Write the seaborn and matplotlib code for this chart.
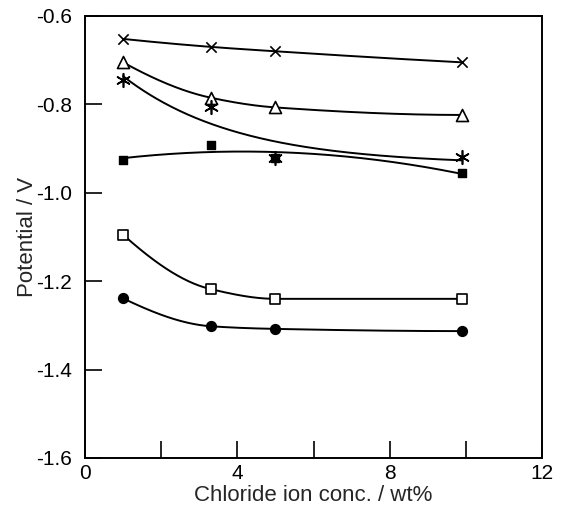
import numpy as np
import pandas as pd
import seaborn as sns
import matplotlib
matplotlib.use("Agg")
import matplotlib.pyplot as plt

# ----------------------------------------
# data
# ----------------------------------------
conc = [1.0, 3.3, 5.0, 9.9]

pot_cross = [-0.652, -0.670, -0.680, -0.705]
pot_triangle = [-0.705, -0.785, -0.807, -0.824]
pot_asterisk = [-0.745, -0.805, -0.921, -0.920]
pot_sq_filled = [-0.927, -0.891, -0.921, -0.956]
pot_sq_open = [-1.095, -1.218, -1.240, -1.240]
pot_circle = [-1.239, -1.302, -1.308, -1.313]

series_names = ["cross", "triangle", "asterisk", "sq_filled", "sq_open", "circle"]
series_values = [pot_cross, pot_triangle, pot_asterisk, pot_sq_filled, pot_sq_open, pot_circle]

x_ticks = [0, 2, 4, 6, 8, 10, 12]
x_labels = ["0", "", "4", "", "8", "", "12"]
y_ticks = [-1.6, -1.4, -1.2, -1.0, -0.8, -0.6]
y_labels = ["-1.6", "-1.4", "-1.2", "-1.0", "-0.8", "-0.6"]

df = pd.concat(
    [pd.DataFrame({"conc": conc, "potential": v, "series": n})
     for n, v in zip(series_names, series_values)],
    ignore_index=True,
)

# ----------------------------------------
# smooth curves like the hand-drawn ones in the original
# ----------------------------------------
# "smooth": monotone cubic through the points
# "sat": least-squares line in exp(-conc/3), levels off (curve misses points)
# "x": least-squares quadratic in conc
curve_kind = {
    "cross": "smooth",
    "triangle": "smooth",
    "asterisk": "sat",
    "sq_filled": "x",
    "sq_open": "smooth",
    "circle": "smooth",
}

def monotone_cubic(x, y, xs):
    # Fritsch-Carlson slopes (same idea as PCHIP)
    x = np.asarray(x, float)
    y = np.asarray(y, float)
    h = np.diff(x)
    delta = np.diff(y) / h
    d = np.zeros_like(y)
    for k in range(1, len(x) - 1):
        if delta[k - 1] * delta[k] > 0:
            w1 = 2 * h[k] + h[k - 1]
            w2 = h[k] + 2 * h[k - 1]
            d[k] = (w1 + w2) / (w1 / delta[k - 1] + w2 / delta[k])
    for k, (i0, i1) in {0: (0, 1), len(x) - 1: (-1, -2)}.items():
        hh0, hh1 = h[i0], h[i1]
        dd0, dd1 = delta[i0], delta[i1]
        dk = ((2 * hh0 + hh1) * dd0 - hh0 * dd1) / (hh0 + hh1)
        if np.sign(dk) != np.sign(dd0):
            dk = 0.0
        elif np.sign(dd0) != np.sign(dd1) and abs(dk) > abs(3 * dd0):
            dk = 3 * dd0
        d[k] = dk
    idx = np.clip(np.searchsorted(x, xs) - 1, 0, len(x) - 2)
    hk = h[idx]
    s = (xs - x[idx]) / hk
    h00 = 2 * s**3 - 3 * s**2 + 1
    h10 = s**3 - 2 * s**2 + s
    h01 = -2 * s**3 + 3 * s**2
    h11 = s**3 - s**2
    return h00 * y[idx] + h10 * hk * d[idx] + h01 * y[idx + 1] + h11 * hk * d[idx + 1]

fit_rows = []
for name in series_names:
    sub = df[df.series == name]
    xs = np.linspace(sub.conc.min(), sub.conc.max(), 300)
    kind = curve_kind[name]
    if kind == "smooth":
        ys = monotone_cubic(sub.conc.values, sub.potential.values, xs)
    elif kind == "sat":
        coef = np.polyfit(np.exp(-sub.conc / 3.0), sub.potential, 1)
        ys = np.polyval(coef, np.exp(-xs / 3.0))
    else:
        coef = np.polyfit(sub.conc, sub.potential, 2)
        ys = np.polyval(coef, xs)
    fit_rows.append(pd.DataFrame({"conc": xs, "potential": ys, "series": name}))
fit_df = pd.concat(fit_rows, ignore_index=True)

# ----------------------------------------
# style
# ----------------------------------------
sns.set_theme(style="ticks")
plt.rcParams["font.family"] = ["Liberation Sans", "DejaVu Sans"]

marker_style = {
    "cross": dict(marker="x", s=55, face="black", lw=1.2),
    "triangle": dict(marker="^", s=75, face="white", lw=1.2),
    "asterisk": dict(marker=(6, 2, 0), s=95, face="black", lw=1.2),
    "sq_filled": dict(marker="s", s=38, face="black", lw=1.0),
    "sq_open": dict(marker="s", s=45, face="white", lw=1.2),
    "circle": dict(marker="o", s=50, face="black", lw=1.0),
}

fig = plt.figure(figsize=(5.63, 5.14), dpi=100)
ax = fig.add_axes([0.1510, 0.109, 0.812, 0.86])

for name in series_names:
    sns.lineplot(data=fit_df[fit_df.series == name], x="conc", y="potential",
                 color="black", lw=1.4, sort=False, estimator=None, ax=ax)
    st = marker_style[name]
    sns.scatterplot(data=df[df.series == name], x="conc", y="potential",
                    marker=st["marker"], s=st["s"], color=st["face"],
                    edgecolor="black", linewidth=st["lw"], zorder=3, ax=ax, legend=False)

ax.set_xlim(0, 12)
ax.set_ylim(-1.6, -0.6)
ax.set_xticks(x_ticks)
ax.set_xticklabels(x_labels)
ax.set_yticks(y_ticks)
ax.set_yticklabels(y_labels)
ax.tick_params(direction="in", length=12, width=1.2, labelsize=15, colors="black", pad=9.5)
ax.tick_params(axis="x", pad=4.5)
for side in ["top", "right", "bottom", "left"]:
    ax.spines[side].set_visible(True)
    ax.spines[side].set_linewidth(1.4)
    ax.spines[side].set_color("black")
ax.set_xlabel("Chloride ion conc. / wt%", fontsize=16, labelpad=1)
ax.set_ylabel("Potential / V", fontsize=16, labelpad=-1.5)

fig.savefig("out.png", dpi=100)
